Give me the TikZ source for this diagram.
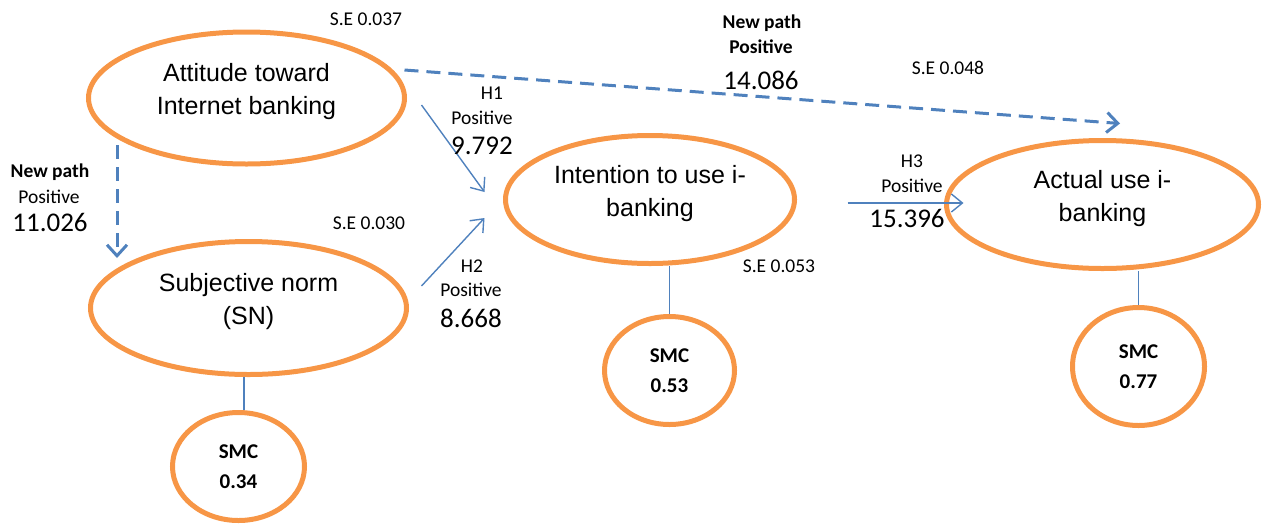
\documentclass[tikz,border=0pt]{standalone}
\usepackage{fontspec}
\setmainfont{Liberation Sans}
\newfontfamily\calfont{Carlito}
\usetikzlibrary{shapes.geometric,arrows.meta,calc}
\definecolor{org}{HTML}{F79646}
\definecolor{blu}{HTML}{4F81BD}
\begin{document}
\begin{tikzpicture}[x=1pt,y=-1pt,
 ell/.style={ellipse, draw=org, line width=5pt, inner sep=0pt},
 ellt/.style={font=\fontsize{25}{33}\selectfont, align=center, yshift=6pt, inner sep=0pt},
 smc/.style={ellipse, draw=org, line width=5pt, inner sep=0pt, font=\calfont\bfseries\fontsize{21}{30}\selectfont, align=center},
 lbl/.style={font=\calfont\fontsize{19.5}{22}\selectfont, inner sep=0pt},
 blbl/.style={font=\calfont\bfseries\fontsize{19.5}{22}\selectfont, inner sep=0pt},
 num/.style={font=\calfont\fontsize{27}{30}\selectfont, inner sep=0pt},
 arr/.style={draw=blu, line width=1.4pt, -{Straight Barb[length=11pt,width=18pt]}},
 darr/.style={draw=blu, line width=3pt, dash pattern=on 14pt off 8pt, -{Straight Barb[length=11pt,width=20pt]}},
 link/.style={draw=blu, line width=1.4pt}]
\useasboundingbox (0,0) rectangle (1268,531);

% main constructs
\node[ell, minimum width=316pt, minimum height=132pt,
  label={[ellt]center:Attitude toward\\Internet banking}] (att) at (246.5,98) {};
\node[ell, minimum width=316pt, minimum height=133pt,
  label={[ellt]center:Subjective norm\\(SN)}] (sn) at (248.5,308) {};
\node[ell, minimum width=289pt, minimum height=128pt,
  label={[ellt]center:Intention to use i-\\banking}] (int) at (650,199.5) {};
\node[ell, minimum width=312pt, minimum height=128pt,
  label={[ellt]center:Actual use i-\\banking}] (act) at (1102.5,204.5) {};

% SMC circles
\node[smc, minimum width=132pt, minimum height=108pt] (smc1) at (238.5,466.5) {SMC\\0.34};
\node[smc, minimum width=130pt, minimum height=108pt] (smc2) at (669.5,370.5) {SMC\\0.53};
\node[smc, minimum width=132pt, minimum height=118pt] (smc3) at (1138.5,366.5) {SMC\\0.77};

% links to SMC
\coordinate (l1) at ($(smc1.north)+(5.5,0)$);
\draw[link] (l1) -- (l1 |- sn.south);
\draw[link] (smc2.north) -- (smc2.north |- int.south);
\draw[link] (smc3.north) -- (smc3.north |- act.south);

% hypothesised paths
\draw[arr] ($(att.east)+(14.5,7)$) -- ($(int.west)+(-18.5,-7.5)$);
\draw[arr] ($(sn.east)+(12.5,-22)$) -- ($(int.west)+(-18.5,18.5)$);
\draw[arr] ($(int.east)+(50.5,3.5)$) -- ($(act.west)+(19.5,-1.5)$);

% new paths
\draw[darr] ($(att.center)+(158,-28)$) -- ($(act.north)+(17.5,-14.5)$);
\draw[darr] ($(att.center)+(-129.5,47)$) -- ($(sn.center)+(-131.5,-50)$);

% labels
\node[lbl] (se1) at (366,19) {S.E 0.037};
\node[lbl] (se2) at (948,68) {S.E 0.048};
\node[lbl] (se3) at (369,223) {S.E 0.030};
\node[lbl] (se4) at (779,266) {S.E 0.053};

\node[blbl] (np1) at (762,23) {New path};
\node[blbl] (np1p) at (761,47) {Positive};
\node[num] (np1n) at (761,80) {14.086};

\node[blbl] (np2) at (50,172) {New path};
\node[lbl] (np2p) at (49,197) {Positive};
\node[num] (np2n) at (50,222) {11.026};

\node[lbl] (h1) at (492,93) {H1};
\node[lbl] (h1p) at (482,118) {Positive};
\node[num] (h1n) at (482,146) {9.792};

\node[lbl] (h2) at (472,266) {H2};
\node[lbl] (h2p) at (471,290) {Positive};
\node[num] (h2n) at (471,318) {8.668};

\node[lbl] (h3) at (912,161) {H3};
\node[lbl] (h3p) at (912,186) {Positive};
\node[num] (h3n) at (907,218) {15.396};
\end{tikzpicture}
\end{document}
